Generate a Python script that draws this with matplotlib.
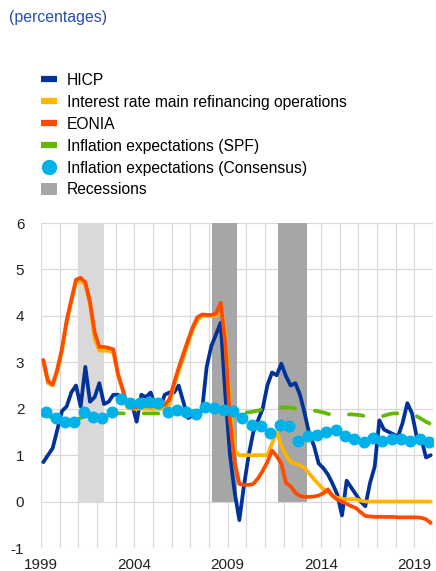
import numpy as np
import pandas as pd
import matplotlib
matplotlib.use("Agg")
import matplotlib.pyplot as plt
from matplotlib.lines import Line2D
from matplotlib.patches import Patch

plt.rcParams['font.family'] = ['Liberation Sans', 'DejaVu Sans']

# ---------------- data ----------------
quarters = pd.period_range('1999Q1', '2019Q4', freq='Q')

hicp = [0.85, 1.0, 1.15, 1.55,
        1.95, 2.05, 2.35, 2.5,
        2.05, 2.9, 2.15, 2.25,
        2.55, 2.1, 2.15, 2.3,
        2.3, 2.2, 2.15, 2.1,
        1.72, 2.3, 2.25, 2.35,
        2.05, 2.0, 2.3, 2.35,
        2.35, 2.5, 2.15, 1.8,
        1.85, 1.9, 1.95, 2.9,
        3.35, 3.6, 3.85, 2.3,
        1.0, 0.2, -0.4, 0.35,
        1.0, 1.5, 1.75, 2.0,
        2.5, 2.78, 2.72, 2.97,
        2.7, 2.5, 2.55, 2.3,
        1.9, 1.45, 1.2, 0.82,
        0.72, 0.58, 0.38, 0.15,
        -0.3, 0.45, 0.3, 0.15,
        0.0, -0.1, 0.4, 0.75,
        1.75, 1.55, 1.5, 1.45,
        1.4, 1.7, 2.12, 1.9,
        1.4, 1.35, 0.95, 1.0]

mro = [3.0, 2.55, 2.5, 2.8,
       3.25, 3.85, 4.3, 4.72,
       4.75, 4.68, 4.25, 3.5,
       3.25, 3.25, 3.25, 3.2,
       2.72, 2.4, 2.02, 2.0,
       2.0, 2.0, 2.0, 2.0,
       2.0, 2.0, 2.0, 2.1,
       2.5, 2.8, 3.1, 3.4,
       3.7, 3.9, 4.0, 4.0,
       4.0, 4.0, 4.25, 3.6,
       2.0, 1.1, 1.0, 1.0,
       1.0, 1.0, 1.0, 1.0,
       1.0, 1.25, 1.5, 1.2,
       1.0, 0.85, 0.82, 0.78,
       0.72, 0.6, 0.48, 0.37,
       0.27, 0.2, 0.13, 0.08,
       0.06, 0.05, 0.05, 0.05,
       0.02, 0.0, 0.0, 0.0,
       0.0, 0.0, 0.0, 0.0,
       0.0, 0.0, 0.0, 0.0,
       0.0, 0.0, 0.0, 0.0]

eonia = [3.05, 2.6, 2.52, 2.85,
         3.3, 3.9, 4.35, 4.78,
         4.82, 4.72, 4.3, 3.65,
         3.33, 3.33, 3.31, 3.28,
         2.75, 2.42, 2.08, 2.02,
         2.03, 2.05, 2.06, 2.08,
         2.06, 2.07, 2.08, 2.2,
         2.55, 2.88, 3.18, 3.48,
         3.75, 3.97, 4.03, 4.02,
         4.02, 4.05, 4.28, 3.4,
         1.75, 0.85, 0.38, 0.36,
         0.36, 0.38, 0.5, 0.66,
         0.85, 1.1, 0.98, 0.82,
         0.4, 0.33, 0.19, 0.12,
         0.1, 0.1, 0.11, 0.13,
         0.18, 0.26, 0.12, 0.04,
         0.0, -0.05, -0.1, -0.14,
         -0.23, -0.31, -0.32, -0.33,
         -0.33, -0.33, -0.33, -0.33,
         -0.34, -0.34, -0.34, -0.34,
         -0.34, -0.35, -0.38, -0.46]

spf = [1.85, 1.85, 1.8, 1.8,
       1.75, 1.75, 1.75, 1.75,
       1.8, 1.85, 1.85, 1.85,
       1.85, 1.85, 1.85, 1.9,
       1.9, 1.9, 1.9, 1.9,
       1.9, 1.9, 1.9, 1.9,
       1.9, 1.9, 1.9, 1.9,
       1.9, 1.9, 1.95, 1.95,
       1.95, 1.95, 1.95, 1.95,
       1.95, 1.95, 1.95, 1.95,
       1.95, 1.95, 1.93, 1.92,
       1.92, 1.94, 1.96, 1.99,
       2.0, 2.0, 2.0, 2.02,
       2.03, 2.02, 2.01, 2.0,
       1.98, 1.97, 1.96, 1.94,
       1.92, 1.89, 1.87, 1.87,
       1.87, 1.87, 1.88, 1.87,
       1.86, 1.84, 1.83, 1.82,
       1.82, 1.85, 1.88, 1.9,
       1.9, 1.9, 1.88, 1.86,
       1.84, 1.78, 1.72, 1.67]

consensus_dates = pd.period_range('1999-04', periods=42, freq='6M')
consensus = [1.92, 1.79, 1.72, 1.72, 1.93, 1.82, 1.80, 1.92,
             2.22, 2.13, 2.13, 2.14, 2.12, 1.92, 1.97, 1.92,
             1.88, 2.03, 2.01, 1.97, 1.95, 1.80, 1.66, 1.63,
             1.47, 1.66, 1.63, 1.31, 1.42, 1.44, 1.50, 1.55,
             1.42, 1.35, 1.28, 1.37, 1.31, 1.35, 1.35, 1.31,
             1.34, 1.29]

rec_start = [2001.0, 2008.17, 2011.67]
rec_end = [2002.35, 2009.5, 2013.25]
rec_top = 6

year_ticks = [1999, 2004, 2009, 2014, 2019]
year_labels = ['1999', '2004', '2009', '2014', '2019']
y_ticks = [-1, 0, 1, 2, 3, 4, 5, 6]
y_labels = ['-1', '0', '1', '2', '3', '4', '5', '6']

labels = ['HICP', 'Interest rate main refinancing operations', 'EONIA',
          'Inflation expectations (SPF)', 'Inflation expectations (Consensus)',
          'Recessions']

# ---------------- styling ----------------
C_HICP = '#003299'
C_MRO = '#FFB400'
C_EONIA = '#FF4B00'
C_SPF = '#65B800'
C_CONS = '#00B1EA'
C_REC = '#A6A6A6'
C_REC_LIGHT = '#D9D9D9'
C_GRID = '#D9D9D9'
C_TITLE = '#2A4FA8'

qx = np.array([p.year + (p.quarter - 1) / 4 + 0.125 for p in quarters])
cx = np.array([p.year + (p.month - 1) / 12 + 1 / 24 for p in consensus_dates])

W, H = 436, 571
fig = plt.figure(figsize=(W / 100, H / 100), dpi=100)
ax = fig.add_axes([41 / W, 1 - 548 / H, (433 - 41) / W, (548 - 223) / H])

rec_colors = [C_REC_LIGHT, C_REC, C_REC]
for s, e, c in zip(rec_start, rec_end, rec_colors):
    ax.bar(s, rec_top, width=e - s, align='edge', bottom=0, color=c,
           linewidth=0, zorder=1)

lw = 2.7
ax.plot(qx, hicp, color=C_HICP, lw=lw, zorder=3, solid_joinstyle='round',
        solid_capstyle='round')
ax.plot(qx, mro, color=C_MRO, lw=lw, zorder=4, solid_joinstyle='round',
        solid_capstyle='round')
ax.plot(qx, eonia, color=C_EONIA, lw=lw, zorder=5, solid_joinstyle='round',
        solid_capstyle='round')
ax.plot(qx, spf, color=C_SPF, lw=lw, zorder=6,
        linestyle=(0.1, (3.9, 5.3)), dash_capstyle='round')
ax.plot(cx, consensus, linestyle='none', marker='o', markersize=7.6,
        markerfacecolor=C_CONS, markeredgecolor=C_CONS, zorder=7)

ax.set_xlim(1999, 2020)
ax.set_ylim(-1, 6)
ax.set_xticks(year_ticks)
ax.set_xticklabels(year_labels)
ax.set_xticks(np.arange(1999, 2021), minor=True)
ax.set_yticks(y_ticks)
ax.set_yticklabels(y_labels)
ax.grid(True, which='both', color=C_GRID, lw=0.9, zorder=0)
ax.set_axisbelow(True)
for sp in ax.spines.values():
    sp.set_visible(False)
ax.tick_params(which='both', length=0)
ax.tick_params(axis='x', pad=7, labelsize=11, colors='#222222')
ax.tick_params(axis='y', pad=12, labelsize=11, colors='#222222')

fig.text(9 / W, 1 - 10 / H, '(percentages)', color=C_TITLE, fontsize=11.4,
         va='top', ha='left')

handles = [Line2D([], [], color=C_HICP, lw=4.5, solid_capstyle='butt'),
           Line2D([], [], color=C_MRO, lw=4.5, solid_capstyle='butt'),
           Line2D([], [], color=C_EONIA, lw=4.5, solid_capstyle='butt'),
           Line2D([], [], color=C_SPF, lw=4.5, solid_capstyle='butt'),
           Line2D([], [], linestyle='none', marker='o', markersize=10,
                  color=C_CONS),
           Patch(facecolor=C_REC, edgecolor='none')]
fig.legend(handles, labels, loc='upper left', bbox_to_anchor=(41 / W, 1 - 73 / H),
           frameon=False, fontsize=11.25, handlelength=1.03, handleheight=0.85,
           handletextpad=0.65, labelspacing=0.44, borderpad=0, borderaxespad=0)

fig.savefig('out.png', dpi=100)
